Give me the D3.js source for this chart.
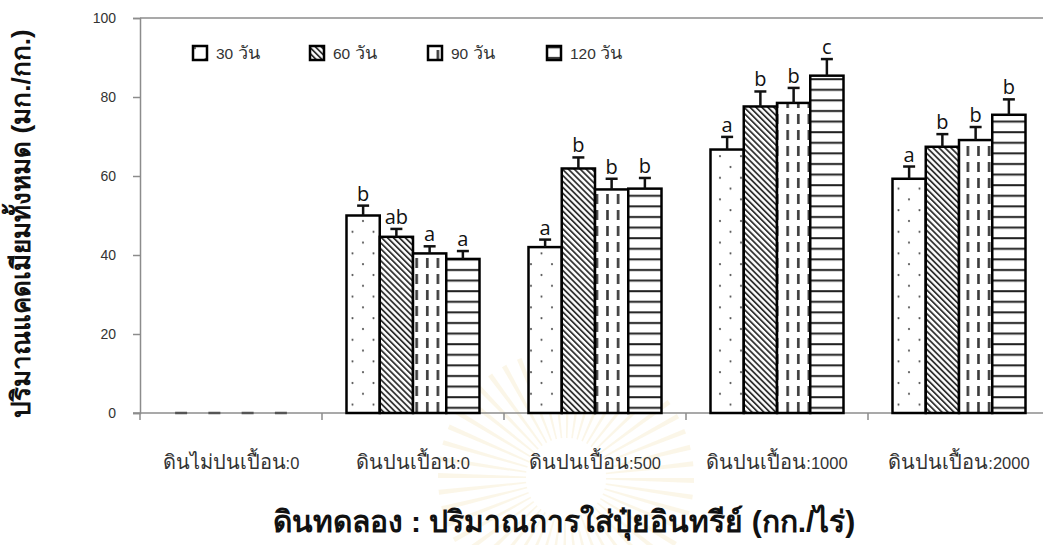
<!DOCTYPE html>
<html>
<head>
<meta charset="utf-8">
<script src="https://cdn.jsdelivr.net/npm/d3@7/dist/d3.min.js"></script>
<style>
  html, body { margin: 0; padding: 0; background: #fff; }
  svg { display: block; }
</style>
</head>
<body>
<svg id="chart" width="1043" height="545"></svg>
<script>
// Soil treatments (x categories) and sampling days (series)
const categories = ["ดินไม่ปนเปื้อน:0", "ดินปนเปื้อน:0", "ดินปนเปื้อน:500", "ดินปนเปื้อน:1000", "ดินปนเปื้อน:2000"];
const seriesNames = ["30 วัน", "60 วัน", "90 วัน", "120 วัน"];

// Total cadmium (mg/kg), mean per treatment
const day30 = [0, 50.0, 42.0, 66.7, 59.3];
const day60 = [0, 44.6, 61.9, 77.6, 67.4];
const day90 = [0, 40.4, 56.6, 78.5, 69.1];
const day120 = [0, 39.0, 56.8, 85.4, 75.5];

// Standard error (upper whisker)
const err30 = [0, 2.5, 1.9, 3.2, 3.1];
const err60 = [0, 2.0, 2.8, 3.8, 3.2];
const err90 = [0, 1.8, 2.7, 3.8, 3.3];
const err120 = [0, 2.0, 2.7, 4.2, 3.9];

// Significance letters
const let30 = ["", "b", "a", "a", "a"];
const let60 = ["", "ab", "b", "b", "b"];
const let90 = ["", "a", "b", "b", "b"];
const let120 = ["", "a", "b", "c", "b"];

const yTicks = [0, 20, 40, 60, 80, 100];
const yTitle = "ปริมาณแคดเมียมทั้งหมด (มก./กก.)";
const xTitle = "ดินทดลอง : ปริมาณการใส่ปุ๋ยอินทรีย์ (กก./ไร่)";

const values = [day30, day60, day90, day120];
const errors = [err30, err60, err90, err120];
const letters = [let30, let60, let90, let120];
const patternIds = ["pDots", "pDiag", "pDash", "pHoriz"];

const svg = d3.select("#chart");
const W = 1043, H = 545;
const plot = { left: 140, right: 1050, top: 18, bottom: 413 };
const sans = "'Liberation Sans', 'Noto Sans', sans-serif";

const x = d3.scaleBand().domain(categories).range([plot.left, plot.right]).padding(0);
const xs = d3.scaleBand().domain(seriesNames)
  .range([x.bandwidth() * 0.1346, x.bandwidth() * (1 - 0.1346)]).padding(0);
const y = d3.scaleLinear().domain([0, 100]).range([plot.bottom, plot.top]);

// Writes a label with Thai runs at one size and Latin/digit runs at another
function mixedText(sel, str, thaiSize, latinSize) {
  const parts = str.match(/[\u0E00-\u0E7F]+|[^\u0E00-\u0E7F]+/g) || [];
  parts.forEach(p => {
    sel.append("tspan")
      .attr("font-size", /[\u0E00-\u0E7F]/.test(p) ? thaiSize : latinSize)
      .text(p);
  });
}

// ---- fill patterns ----
const defs = svg.append("defs");

// sparse staggered dots
const pd = defs.append("pattern").attr("id", "pDots").attr("patternUnits", "userSpaceOnUse")
  .attr("width", 21).attr("height", 21.6);
pd.append("rect").attr("width", 21).attr("height", 21.6).attr("fill", "#fff");
pd.append("circle").attr("cx", 6).attr("cy", 5).attr("r", 1.1).attr("fill", "#555");
pd.append("circle").attr("cx", 16.5).attr("cy", 15.8).attr("r", 1.1).attr("fill", "#555");

// dense downward diagonal stripes
const pg = defs.append("pattern").attr("id", "pDiag").attr("patternUnits", "userSpaceOnUse")
  .attr("width", 4.2).attr("height", 4.2).attr("patternTransform", "rotate(-45)");
pg.append("rect").attr("width", 4.2).attr("height", 4.2).attr("fill", "#fff");
pg.append("rect").attr("x", 0).attr("width", 1.8).attr("height", 4.2).attr("fill", "#333");

// vertical dashes
const ph = defs.append("pattern").attr("id", "pDash").attr("patternUnits", "userSpaceOnUse")
  .attr("width", 10.6).attr("height", 16);
ph.append("rect").attr("width", 10.6).attr("height", 16).attr("fill", "#fff");
ph.append("rect").attr("x", 2).attr("y", 2).attr("width", 2.6).attr("height", 10).attr("fill", "#3a3a3a");

// horizontal lines
const pz = defs.append("pattern").attr("id", "pHoriz").attr("patternUnits", "userSpaceOnUse")
  .attr("width", 10).attr("height", 10.6);
pz.append("rect").attr("width", 10).attr("height", 10.6).attr("fill", "#fff");
pz.append("rect").attr("y", 4).attr("width", 10).attr("height", 2).attr("fill", "#222");

// ---- faint emblem behind the lower title ----
const emblem = svg.append("g").attr("transform", "translate(566,478)");
const rays = d3.range(0, 360, 7.5);
emblem.selectAll("path.ray").data(rays).join("path")
  .attr("class", "ray")
  .attr("d", d3.arc().innerRadius(40).outerRadius(128)
    .startAngle(0).endAngle(2.2 * Math.PI / 180))
  .attr("transform", d => `rotate(${d - 90})`)
  .attr("fill", "#f1e2b4").attr("opacity", 0.3);
emblem.append("circle").attr("r", 40).attr("fill", "#fff");

// ---- frame ----
const grey = "#8c8c8c";
svg.append("line").attr("x1", plot.left).attr("x2", W + 10).attr("y1", plot.top).attr("y2", plot.top)
  .attr("stroke", grey).attr("stroke-width", 1.5);

// y axis
const yAxis = svg.append("g").attr("transform", `translate(${plot.left},0)`)
  .call(d3.axisLeft(y).tickValues(yTicks).tickSize(7).tickPadding(17).tickFormat(d3.format("d")));
yAxis.select(".domain").attr("stroke", grey).attr("stroke-width", 1.5);
yAxis.selectAll(".tick line").attr("stroke", grey).attr("stroke-width", 1.5);
yAxis.selectAll(".tick text").attr("fill", "#333").attr("font-size", 14)
  .attr("font-family", sans);

// x axis line and category boundary ticks
svg.append("line").attr("x1", plot.left - 7).attr("x2", W + 10)
  .attr("y1", plot.bottom).attr("y2", plot.bottom).attr("stroke", grey).attr("stroke-width", 1.5);
const bounds = categories.map(c => x(c)).concat([x(categories[categories.length - 1]) + x.bandwidth()]);
svg.selectAll("line.xtick").data(bounds).join("line")
  .attr("class", "xtick")
  .attr("x1", d => d).attr("x2", d => d)
  .attr("y1", plot.bottom).attr("y2", plot.bottom + 7)
  .attr("stroke", grey).attr("stroke-width", 1.5);

svg.selectAll("text.cat").data(categories).join("text")
  .attr("class", "cat")
  .attr("x", d => x(d) + x.bandwidth() / 2)
  .attr("y", 469)
  .attr("text-anchor", "middle")
  .attr("fill", "#333")
  .attr("font-family", sans)
  .each(function (d) { mixedText(d3.select(this), d, 20, 16.5); });

// ---- bars ----
const rows = [];
seriesNames.forEach((s, si) => {
  categories.forEach((c, ci) => {
    rows.push({ s, si, c, v: values[si][ci], e: errors[si][ci], lab: letters[si][ci] });
  });
});

svg.append("g").selectAll("rect").data(rows.filter(d => d.v > 0)).join("rect")
  .attr("x", d => x(d.c) + xs(d.s))
  .attr("y", d => y(d.v))
  .attr("width", xs.bandwidth())
  .attr("height", d => y(0) - y(d.v))
  .attr("fill", d => `url(#${patternIds[d.si]})`)
  .attr("stroke", "#000")
  .attr("stroke-width", 2.5);

// error whiskers (upper only)
const capW = 12;
const eb = svg.append("g").attr("stroke", "#111").attr("stroke-width", 2.5);
rows.forEach(d => {
  const cx = x(d.c) + xs(d.s) + xs.bandwidth() / 2;
  if (d.e > 0) {
    eb.append("line").attr("x1", cx).attr("x2", cx).attr("y1", y(d.v)).attr("y2", y(d.v + d.e));
  }
  eb.append("line").attr("x1", cx - capW / 2).attr("x2", cx + capW / 2)
    .attr("y1", y(d.v + d.e)).attr("y2", y(d.v + d.e))
    .attr("stroke", d.e > 0 ? "#111" : "#555");
});

// significance letters
svg.selectAll("text.sig").data(rows.filter(d => d.lab)).join("text")
  .attr("class", "sig")
  .attr("x", d => x(d.c) + xs(d.s) + xs.bandwidth() / 2)
  .attr("y", d => y(d.v + d.e) - 5)
  .attr("text-anchor", "middle")
  .attr("font-size", 20)
  .attr("fill", "#111")
  .attr("font-family", "'Open Sans', 'Noto Sans', sans-serif")
  .text(d => d.lab);

// ---- legend ----
const legendX = [193, 310, 428, 547];
const lg = svg.append("g");
seriesNames.forEach((s, i) => {
  lg.append("rect").attr("x", legendX[i]).attr("y", 46).attr("width", 14).attr("height", 14)
    .attr("fill", `url(#${patternIds[i]})`).attr("stroke", "#000").attr("stroke-width", 2.5);
  const t = lg.append("text").attr("x", legendX[i] + 23).attr("y", 59)
    .attr("fill", "#333").attr("font-family", sans);
  mixedText(t, s, 18, 15.5);
});

// ---- axis titles ----
svg.append("text")
  .attr("transform", `translate(30,${(plot.top + plot.bottom) / 2 + 8}) rotate(-90)`)
  .attr("text-anchor", "middle")
  .attr("font-size", 26).attr("font-weight", "bold").attr("fill", "#111")
  .attr("font-family", sans)
  .text(yTitle);

svg.append("text")
  .attr("x", 564).attr("y", 532)
  .attr("text-anchor", "middle")
  .attr("font-size", 30).attr("font-weight", "bold").attr("fill", "#111")
  .attr("font-family", sans)
  .text(xTitle);
</script>
</body>
</html>
